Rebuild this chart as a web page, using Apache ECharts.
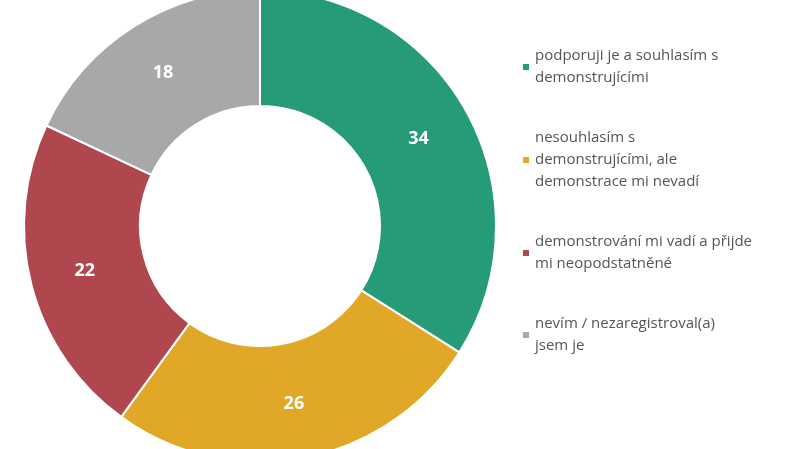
<!DOCTYPE html>
<html><head><meta charset="utf-8">
<script src="https://cdn.jsdelivr.net/npm/echarts@6/dist/echarts.min.js"></script>
<style>html,body{margin:0;padding:0;background:#fff}#c{width:800px;height:449px}</style>
</head><body><div id="c"></div>
<script>
const categories = ["podporuji je a souhlasím s\ndemonstrujícími","nesouhlasím s\ndemonstrujícími, ale\ndemonstrace mi nevadí","demonstrování mi vadí a přijde\nmi neopodstatněné","nevím / nezaregistroval(a)\njsem je"];
const values = [34, 26, 22, 18];
const colors = ["#259b78","#e0a826","#b0474f","#a8a8a8"];
const chart = echarts.init(document.getElementById('c'));
chart.setOption({
  animation:false,
  color: colors,
  legend:{orient:'vertical',left:516,top:40,itemWidth:8,itemHeight:8,itemGap:38,icon:'rect',
    textStyle:{fontFamily:'Open Sans',fontSize:15,color:'#555',lineHeight:22}},
  series:[{type:'pie',center:[260,226],radius:[120,236],startAngle:90,clockwise:true,
    itemStyle:{borderColor:'#fff',borderWidth:2},
    label:{position:'inside',color:'#fff',fontSize:18,fontWeight:'bold',fontFamily:'Open Sans',formatter:'{c}'},
    labelLine:{show:false},
    data: categories.map((n,i)=>({name:n,value:values[i]}))}]
});
</script></body></html>
